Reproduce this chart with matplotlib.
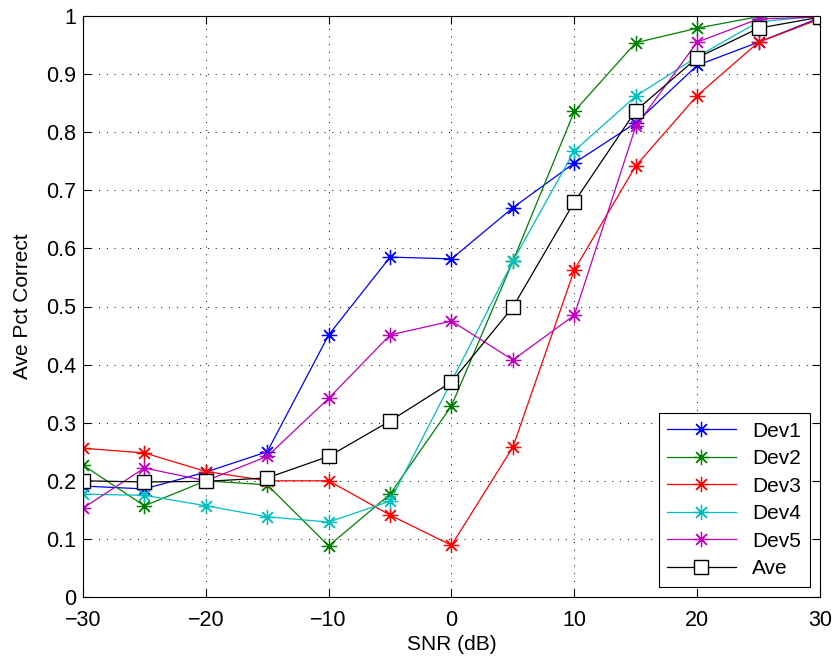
import matplotlib
matplotlib.use("Agg")
import matplotlib.pyplot as plt

plt.rcParams['font.family'] = ['Liberation Sans', 'DejaVu Sans']

# SNR sweep (dB)
snr = [-30, -25, -20, -15, -10, -5, 0, 5, 10, 15, 20, 25, 30]

# Average percent correct per device
dev1 = [0.191, 0.186, 0.215, 0.250, 0.451, 0.585, 0.582, 0.670, 0.747, 0.816, 0.915, 0.955, 0.997]
dev2 = [0.227, 0.157, 0.200, 0.193, 0.088, 0.177, 0.329, 0.578, 0.836, 0.954, 0.979, 0.999, 1.000]
dev3 = [0.256, 0.248, 0.216, 0.200, 0.200, 0.141, 0.089, 0.258, 0.563, 0.742, 0.863, 0.955, 0.995]
dev4 = [0.177, 0.175, 0.157, 0.138, 0.129, 0.165, 0.371, 0.578, 0.768, 0.862, 0.930, 0.990, 1.000]
dev5 = [0.153, 0.222, 0.200, 0.242, 0.342, 0.451, 0.475, 0.408, 0.485, 0.810, 0.955, 0.995, 0.998]
ave = [0.200, 0.198, 0.199, 0.205, 0.242, 0.303, 0.370, 0.499, 0.680, 0.837, 0.928, 0.979, 0.998]

series = [
    ('Dev1', dev1, (0, 0, 1)),
    ('Dev2', dev2, (0, 0.5, 0)),
    ('Dev3', dev3, (1, 0, 0)),
    ('Dev4', dev4, (0, 0.75, 0.75)),
    ('Dev5', dev5, (0.75, 0, 0.75)),
]

fig = plt.figure(figsize=(8.37, 6.65), dpi=100)
ax = fig.add_axes([83 / 837, 1 - 597 / 665, (820 - 83) / 837, (597 - 16) / 665])

star = (8, 2, 0)  # matlab style asterisk
for name, vals, col in series:
    ax.plot(snr, vals, color=col, linewidth=0.9, marker=star, markersize=11,
            markeredgewidth=0.9, label=name)
ax.plot(snr, ave, color='k', linewidth=0.9, marker='s', markersize=10,
        markerfacecolor='white', markeredgecolor='k', markeredgewidth=1.0, label='Ave')

ax.set_xlim(-30, 30)
ax.set_ylim(0, 1)
ax.set_xticks(range(-30, 31, 10))
ax.set_yticks([i / 10 for i in range(11)])
ax.set_yticklabels(['0', '0.1', '0.2', '0.3', '0.4', '0.5', '0.6', '0.7', '0.8', '0.9', '1'])

ax.grid(True, color='k', linestyle=(0, (1, 7)), linewidth=0.7)
ax.tick_params(direction='in', length=6, width=0.8, labelsize=15.5, top=True, right=True)
ax.tick_params(axis='x', pad=9.5)
ax.tick_params(axis='y', pad=5)
for sp in ax.spines.values():
    sp.set_linewidth(0.8)

ax.set_xlabel('SNR (dB)', fontsize=15, labelpad=3)
ax.set_ylabel('Ave Pct Correct', fontsize=15, labelpad=10)

leg = ax.legend(loc='lower right', fontsize=15, fancybox=False, framealpha=1,
                edgecolor='k', handlelength=3.3, borderaxespad=0.5,
                labelspacing=0.41, borderpad=0.4)
leg.get_frame().set_linewidth(0.8)

fig.savefig('out.png', dpi=100)
